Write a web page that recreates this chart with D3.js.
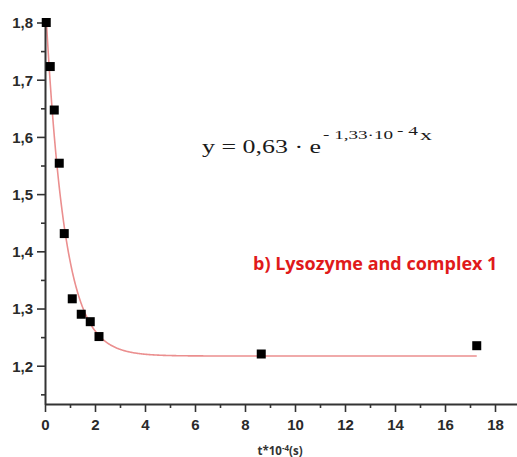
<!DOCTYPE html>
<html>
<head>
<meta charset="utf-8">
<script src="https://cdn.jsdelivr.net/npm/d3@7"></script>
<style>
  html, body { margin: 0; padding: 0; background: #fff; }
  svg { display: block; }
</style>
</head>
<body>
<div id="chart"></div>
<script>
// Measured absorbance over time (t in units of 10^4 s)
const timeValues = [0.05, 0.21, 0.37, 0.57, 0.77, 1.09, 1.45, 1.81, 2.16, 8.65, 17.27];
const signalValues = [1.800, 1.723, 1.647, 1.554, 1.431, 1.317, 1.290, 1.277, 1.251, 1.2205, 1.235];

// Exponential decay fit: y = y0 + A * e^(-k x)
const fitAmplitude = 0.63;
const fitRate = 1.33;
const fitOffset = 1.217;
const fitRange = [0, 17.27];

const xTickValues = [0, 2, 4, 6, 8, 10, 12, 14, 16, 18];
const xMinorTicks = [1, 3, 5, 7, 9, 11, 13, 15, 17];
const yTickValues = [1.2, 1.3, 1.4, 1.5, 1.6, 1.7, 1.8];
const yMinorTicks = [1.15, 1.25, 1.35, 1.45, 1.55, 1.65, 1.75];

const W = 517, H = 457;
const svg = d3.select("#chart").append("svg").attr("width", W).attr("height", H);

const x = d3.scaleLinear().domain([0, 18.9]).range([45, 517.5]);
const y = d3.scaleLinear().domain([1.1331, 1.8]).range([404, 22.5]);

const axisColor = "#333";
const labelFont = "'Liberation Sans', Arial, sans-serif";

// clip region for the fit curve (plot area)
svg.append("clipPath").attr("id", "plotClip")
  .append("rect")
  .attr("x", x(0)).attr("y", y(1.8))
  .attr("width", x(18.9) - x(0)).attr("height", y(1.1331) - y(1.8));

// fitted curve
const fitPoints = d3.range(fitRange[0], fitRange[1] + 1e-9, 0.02).map(t => [t, fitOffset + fitAmplitude * Math.exp(-fitRate * t)]);
fitPoints.push([fitRange[1], fitOffset + fitAmplitude * Math.exp(-fitRate * fitRange[1])]);
svg.append("path")
  .datum(fitPoints)
  .attr("clip-path", "url(#plotClip)")
  .attr("fill", "none")
  .attr("stroke", "#eb8f8f")
  .attr("stroke-width", 1.6)
  .attr("d", d3.line().x(d => x(d[0])).y(d => y(d[1])));

// x axis
const xAxis = svg.append("g")
  .attr("transform", `translate(0,${y(1.1331)})`)
  .call(d3.axisBottom(x).tickValues(xTickValues).tickSize(8).tickSizeOuter(0).tickFormat(d3.format("d")));
svg.append("g")
  .attr("transform", `translate(0,${y(1.1331)})`)
  .call(d3.axisBottom(x).tickValues(xMinorTicks).tickSize(4).tickSizeOuter(0).tickFormat(""))
  .call(g => g.select(".domain").remove());

// y axis
const yAxis = svg.append("g")
  .attr("transform", `translate(${x(0)},0)`)
  .call(d3.axisLeft(y).tickValues(yTickValues).tickSize(8).tickSizeOuter(0).tickFormat(d => d3.format(".1f")(d).replace(".", ",")));
svg.append("g")
  .attr("transform", `translate(${x(0)},0)`)
  .call(d3.axisLeft(y).tickValues(yMinorTicks).tickSize(4).tickSizeOuter(0).tickFormat(""))
  .call(g => g.select(".domain").remove());

svg.selectAll(".domain").attr("stroke", axisColor).attr("stroke-width", 2);
svg.selectAll(".tick line").attr("stroke", axisColor).attr("stroke-width", 1.6);
svg.selectAll(".tick text")
  .attr("fill", "#2a2a2a")
  .attr("font-family", labelFont)
  .attr("font-size", 15)
  .attr("font-weight", "bold");
xAxis.selectAll(".tick text").attr("dy", 0).attr("y", 26);
yAxis.selectAll(".tick text").attr("x", -12).attr("dy", "0.36em");

// x axis title: t*10^-4(s)
const xt = svg.append("text")
  .attr("x", 280).attr("y", 455)
  .attr("text-anchor", "middle")
  .attr("font-family", "'Open Sans', sans-serif")
  .attr("font-weight", "bold")
  .attr("font-size", 11.5)
  .attr("fill", "#333");
xt.append("tspan").text("t*10");
xt.append("tspan").attr("dy", -4).attr("font-size", 8).text("-4");
xt.append("tspan").attr("dy", 4).text("(s)");

// data markers
const data = timeValues.map((t, i) => ({ t, v: signalValues[i] }));
const ms = 9;
svg.append("g").selectAll("rect")
  .data(data)
  .join("rect")
  .attr("x", d => x(d.t) - ms / 2)
  .attr("y", d => y(d.v) - ms / 2)
  .attr("width", ms).attr("height", ms)
  .attr("fill", "#000");

// fit equation, typeset piece by piece
const serif = "'Liberation Serif', 'Times New Roman', serif";
const fmt2 = v => d3.format(".2f")(v).replace(".", ",");
const eq = svg.append("g").attr("fill", "#1a1a1a").attr("font-family", serif);
eq.append("text")
  .attr("x", 202).attr("y", 153)
  .attr("font-size", 18)
  .attr("textLength", 119).attr("lengthAdjust", "spacingAndGlyphs")
  .text("y = " + fmt2(fitAmplitude) + " · e");
eq.append("text")
  .attr("x", 323).attr("y", 139)
  .attr("font-size", 12.5)
  .attr("textLength", 70).attr("lengthAdjust", "spacingAndGlyphs")
  .text("- " + fmt2(fitRate) + "·10");
eq.append("text")
  .attr("x", 397).attr("y", 135)
  .attr("font-size", 12)
  .attr("textLength", 21).attr("lengthAdjust", "spacingAndGlyphs")
  .text("- 4");
eq.append("text")
  .attr("x", 420).attr("y", 139.5)
  .attr("font-size", 15)
  .attr("textLength", 12).attr("lengthAdjust", "spacingAndGlyphs")
  .text("x");

// panel caption
svg.append("text")
  .attr("x", 253).attr("y", 269.5)
  .attr("font-family", "'Open Sans', sans-serif")
  .attr("font-weight", "bold")
  .attr("font-size", 18)
  .attr("fill", "#e01a1a")
  .text("b) Lysozyme and complex 1");
</script>
</body>
</html>
